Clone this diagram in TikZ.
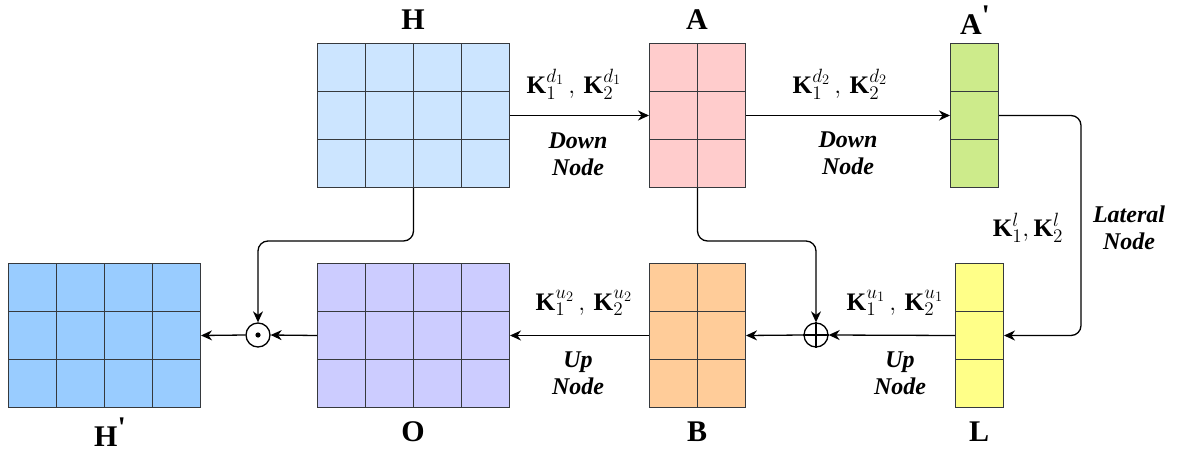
\RequirePackage{fix-cm}
\documentclass[tikz,border=0pt]{standalone}
\usepackage{fontspec}
\usepackage{graphicx}
\setmainfont{Liberation Serif}
\DeclareMathSizes{21}{21}{16}{12}
\usetikzlibrary{arrows.meta,calc}
\definecolor{edge}{HTML}{36393D}
\definecolor{cH}{HTML}{CCE5FF}
\definecolor{cA}{HTML}{FFCCCC}
\definecolor{cAp}{HTML}{CDEB8B}
\definecolor{cL}{HTML}{FFFF88}
\definecolor{cB}{HTML}{FFCC99}
\definecolor{cO}{HTML}{CCCCFF}
\definecolor{cHp}{HTML}{99CCFF}
\tikzset{
  blk/.style={draw=edge, line width=1pt, inner sep=0pt, anchor=north west},
  inner/.style={draw=edge, line width=1pt},
  arr/.style={draw=black, line width=1.3pt, -{Stealth[length=11pt,width=10pt,inset=3.5pt]}},
  op/.style={draw=black, line width=1.3pt, circle, minimum size=24pt, inner sep=0pt, fill=white},
  big/.style={font=\fontsize{30}{30}\selectfont\bfseries},
  klab/.style={font=\fontsize{21}{24}\selectfont, inner sep=1pt},
  nlab/.style={font=\fontsize{24}{27}\selectfont\bfseries\itshape, align=center, inner sep=1pt},
}
\begin{document}
\begin{tikzpicture}[x=1pt,y=-1pt]
\useasboundingbox (0,0) rectangle (1180,455);
% blocks
\node[blk, fill=cH, minimum width=192pt, minimum height=144pt] (H) at (317,43) {};
\node[blk, fill=cA, minimum width=96pt, minimum height=144pt] (A) at (649,43) {};
\node[blk, fill=cAp, minimum width=48pt, minimum height=144pt] (Ap) at (950,43) {};
\node[blk, fill=cL, minimum width=48pt, minimum height=144pt] (L) at (955,263) {};
\node[blk, fill=cB, minimum width=96pt, minimum height=144pt] (B) at (649,263) {};
\node[blk, fill=cO, minimum width=192pt, minimum height=144pt] (O) at (317,263) {};
\node[blk, fill=cHp, minimum width=192pt, minimum height=144pt] (Hp) at (8,263) {};
% inner lines
\foreach \n in {H,O,Hp}{
  \foreach \f in {0.25,0.5,0.75}
    \draw[inner] ($(\n.north west)!\f!(\n.north east)$) -- ($(\n.south west)!\f!(\n.south east)$);
}
\foreach \n in {A,B}
  \draw[inner] (\n.north) -- (\n.south);
\foreach \n in {H,O,Hp,A,B,Ap,L}{
  \foreach \f in {0.3333333,0.6666667}
    \draw[inner] ($(\n.north west)!\f!(\n.south west)$) -- ($(\n.north east)!\f!(\n.south east)$);
}
% operators
\node[op] (dot) at (258,335) {};
\fill (dot.center) circle (2.6pt);
\node[op] (plus) at (816,335) {};
\draw[line width=1.3pt] (plus.north) -- (plus.south) (plus.west) -- (plus.east);
% connectors
\draw[arr] (H.east) -- (A.west);
\draw[arr] (A.east) -- (Ap.west);
\draw[arr, rounded corners=10pt] (Ap.east) -- ++(82,0) |- (L.east);
\draw[arr] (L.west) -- (plus.east);
\draw[arr] (plus.west) -- (B.east);
\draw[arr] (B.west) -- (O.east);
\draw[arr] (O.west) -- (dot.east);
\draw[arr] (dot.west) -- (Hp.east);
\draw[arr, rounded corners=10pt] (H.south) -- ++(0,53) -| (dot.north);
\draw[arr, rounded corners=10pt] (A.south) -- ++(0,53) -| (plus.north);
% block labels
\node[big] (tH) at (413,20) {H};
\node[big] (tA) at (697,20) {A};
\node[big] (tAp) at (975,20) {A\raisebox{0.3em}{\textquotesingle}};
\node[big] (tO) at (413,432) {O};
\node[big] (tB) at (697,432) {B};
\node[big] (tL) at (979,432) {L};
\node[big] (tHp) at (110,432) {H\raisebox{0.3em}{\textquotesingle}};
% edge labels
\node[klab] (k1) at (574,84) {\scalebox{1.2}{$\mathbf{K}_1^{d_1}\,,\,\mathbf{K}_2^{d_1}$}};
\node[klab] (k2) at (840,84) {\scalebox{1.2}{$\mathbf{K}_1^{d_2}\,,\,\mathbf{K}_2^{d_2}$}};
\node[klab] (k3) at (1028,228) {\scalebox{1.2}{$\mathbf{K}_1^{l}, \mathbf{K}_2^{l}$}};
\node[klab] (k4) at (895,303) {\scalebox{1.2}{$\mathbf{K}_1^{u_1}\,,\,\mathbf{K}_2^{u_1}$}};
\node[klab] (k5) at (584,303) {\scalebox{1.2}{$\mathbf{K}_1^{u_2}\,,\,\mathbf{K}_2^{u_2}$}};
\node[nlab] (n1) at (578,154) {Down\\Node};
\node[nlab] (n2) at (848,153) {Down\\Node};
\node[nlab] (n3) at (1129,228) {Lateral\\Node};
\node[nlab] (n4) at (900,373) {Up\\Node};
\node[nlab] (n5) at (578,373) {Up\\Node};
\end{tikzpicture}
\end{document}
